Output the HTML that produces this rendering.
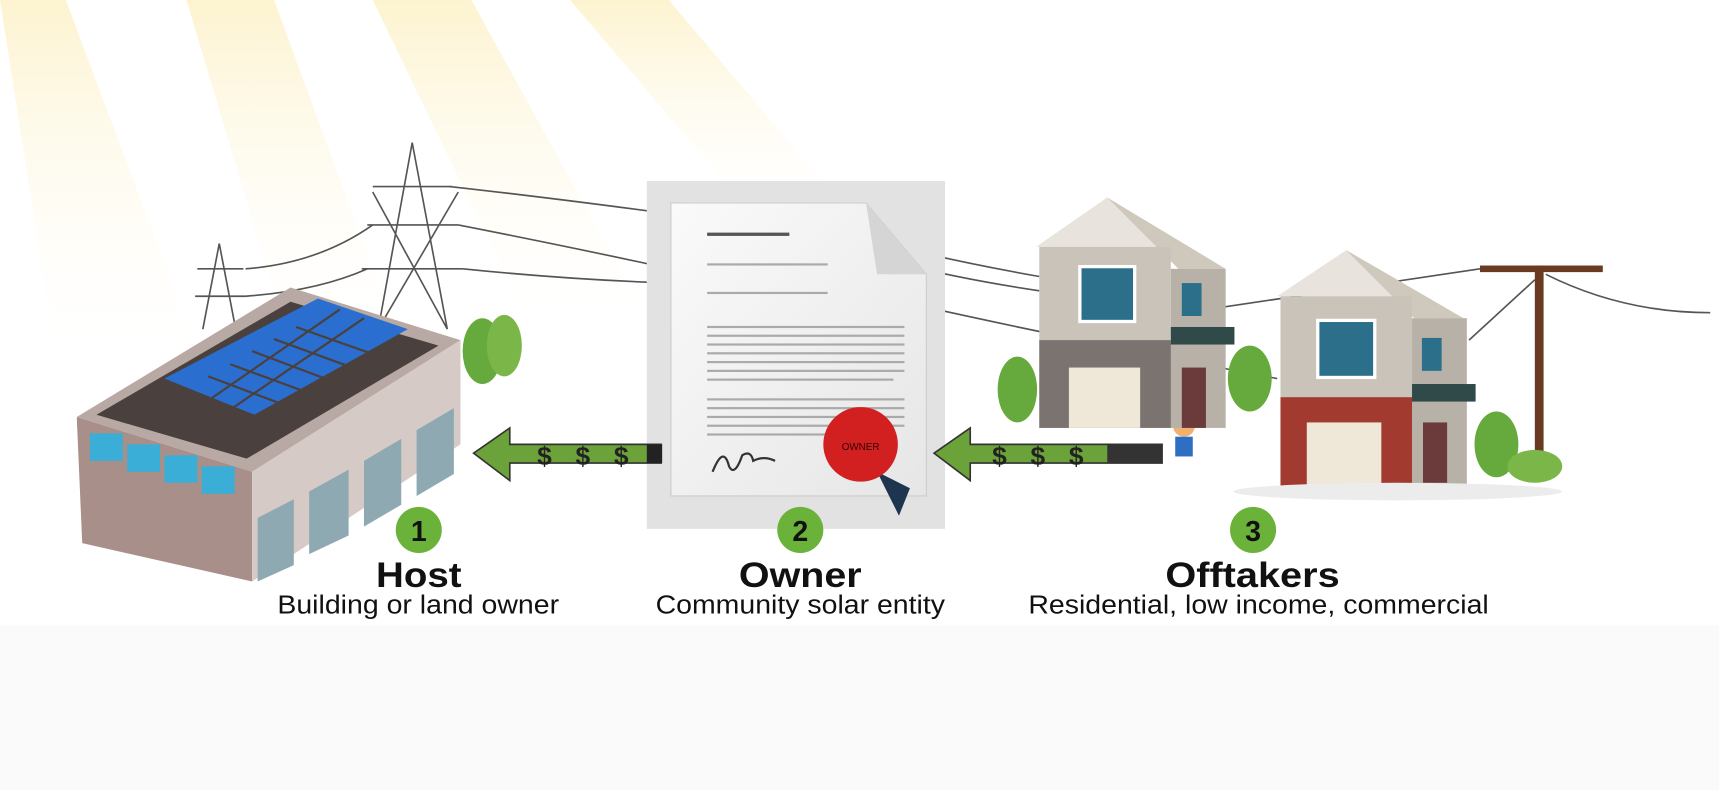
<!DOCTYPE html>
<html><head><style>
html,body{margin:0;padding:0;background:#fff;}
svg{display:block;}
text{font-family:"Liberation Sans",Arial,sans-serif;}
</style></head><body>
<svg width="1719" height="790" viewBox="0 0 1568 720" preserveAspectRatio="none" xmlns="http://www.w3.org/2000/svg">
<defs>
<linearGradient id="ray" x1="0" y1="0" x2="0" y2="1"><stop offset="0" stop-color="#fdf3d0"/><stop offset="1" stop-color="#fffdf5" stop-opacity="0"/></linearGradient>
<linearGradient id="paper" x1="0" y1="0" x2="1" y2="1"><stop offset="0" stop-color="#fafafa"/><stop offset="1" stop-color="#e6e6e6"/></linearGradient>
</defs>
<rect width="1568" height="720" fill="#fff"/>
<rect y="570" width="1568" height="150" fill="#fafafa"/>
<polygon points="0,0 60,0 180,320 50,320" fill="url(#ray)"/>
<polygon points="170,0 250,0 360,300 260,300" fill="url(#ray)"/>
<polygon points="340,0 430,0 590,290 480,290" fill="url(#ray)"/>
<polygon points="520,0 610,0 780,200 690,200" fill="url(#ray)"/>
<g stroke="#555" stroke-width="1.5" fill="none">
<path d="M376,130 L345,300 M376,130 L408,300 M340,170 L412,170 M335,205 L418,205 M330,245 L422,245 M345,300 L418,175 M408,300 L340,175"/>
<path d="M200,222 L185,300 M200,222 L215,300 M180,245 L222,245 M178,270 L224,270"/>
<path d="M410,170 Q500,180 612,195 M418,205 Q520,225 612,245 M422,245 Q520,255 612,258 M224,245 Q290,240 340,205 M224,270 Q290,265 335,245"/>
<path d="M818,225 Q880,240 948,252 M820,240 Q880,255 948,265 M845,280 Q980,310 1165,345 M1115,280 Q1250,260 1350,245 M1340,310 L1400,255 M1410,250 Q1480,285 1560,285"/>
</g>
<rect x="1400" y="242" width="8" height="178" fill="#6b3a22"/>
<rect x="1350" y="242" width="112" height="6" fill="#6b3a22"/>
<polygon points="70,380 265,262 420,310 230,430" fill="#b9a9a4"/>
<polygon points="88,378 265,275 400,315 225,418" fill="#4a403d"/>
<polygon points="150,345 290,272 372,300 232,378" fill="#2a6fcf"/>
<g stroke="#4a403d" stroke-width="2">
<path d="M170,355 L255,388 M190,343 L275,375 M210,332 L295,363 M230,320 L315,352 M250,309 L335,340 M270,298 L355,328 M190,365 L310,282 M212,372 L332,290"/>
</g>
<polygon points="70,380 230,430 230,530 75,495" fill="#a98f89"/>
<polygon points="230,430 420,310 420,405 230,530" fill="#d6cac6"/>
<g fill="#3aaed6"><rect x="82" y="395" width="30" height="25"/><rect x="116" y="405" width="30" height="25"/><rect x="150" y="415" width="30" height="25"/><rect x="184" y="425" width="30" height="25"/></g>
<g fill="#8fa9b3"><polygon points="235,472 268,455 268,515 235,530"/><polygon points="282,448 318,428 318,488 282,505"/><polygon points="332,420 366,400 366,460 332,480"/><polygon points="380,392 414,372 414,432 380,452"/></g>
<ellipse cx="440" cy="320" rx="18" ry="30" fill="#66aa3d"/><ellipse cx="460" cy="315" rx="16" ry="28" fill="#7ab648"/>
<rect x="590" y="165" width="272" height="317" fill="#e2e2e2"/>
<polygon points="612,185 790,185 845,250 845,452 612,452" fill="url(#paper)" stroke="#ccc"/>
<polygon points="790,185 845,250 800,250" fill="#d5d5d5"/>
<rect x="645" y="212" width="75" height="3" fill="#555"/>
<g fill="#aaa"><rect x="645" y="240" width="110" height="2"/><rect x="645" y="266" width="110" height="2"/>
<rect x="645" y="297" width="180" height="2"/><rect x="645" y="305" width="180" height="2"/><rect x="645" y="313" width="180" height="2"/><rect x="645" y="321" width="180" height="2"/><rect x="645" y="329" width="180" height="2"/><rect x="645" y="337" width="180" height="2"/><rect x="645" y="345" width="170" height="2"/>
<rect x="645" y="363" width="180" height="2"/><rect x="645" y="371" width="180" height="2"/><rect x="645" y="379" width="180" height="2"/><rect x="645" y="387" width="180" height="2"/><rect x="645" y="395" width="120" height="2"/></g>
<path d="M650,430 q10,-25 15,-5 q5,10 12,-10 q8,-5 10,5 q10,-5 20,0" stroke="#333" stroke-width="2" fill="none"/>
<polygon points="800,430 820,470 830,445" fill="#1e3550"/>
<circle cx="785" cy="405" r="34" fill="#d21f1f"/>
<text x="785" y="410" font-size="9" text-anchor="middle" fill="#300">OWNER</text>
<g fill="#6ba33a" stroke="#333" stroke-width="1.5">
<polygon points="432,413 465,390 465,405 603,405 603,422 465,422 465,438"/>
<polygon points="852,413 885,390 885,405 1060,405 1060,422 885,422 885,438"/>
</g>
<g font-size="24" font-weight="bold" fill="#222"><text x="490" y="424">$</text><text x="525" y="424">$</text><text x="560" y="424">$</text>
<text x="905" y="424">$</text><text x="940" y="424">$</text><text x="975" y="424">$</text></g>
<rect x="590" y="405" width="14" height="17" fill="#222"/><rect x="1010" y="405" width="50" height="17" fill="#333"/>
<circle cx="1080" cy="388" r="10" fill="#f0b070"/><rect x="1072" y="398" width="16" height="18" fill="#2e6fc4"/>
<polygon points="945,225 1010,180 1075,225" fill="#e8e3dc"/><polygon points="1010,180 1118,245 1075,245" fill="#cfc8bd"/>
<rect x="948" y="225" width="120" height="165" fill="#c9c3ba"/><rect x="1068" y="245" width="50" height="145" fill="#b8b1a7"/>
<rect x="948" y="310" width="120" height="80" fill="#7b7370"/><rect x="975" y="335" width="65" height="55" fill="#efe8d8"/>
<rect x="985" y="243" width="50" height="50" fill="#2b6f8a" stroke="#fff" stroke-width="3"/><rect x="1078" y="258" width="18" height="30" fill="#2b6f8a"/>
<rect x="1068" y="298" width="58" height="16" fill="#2f4a48"/><rect x="1078" y="335" width="22" height="55" fill="#6b3a3a"/>
<ellipse cx="928" cy="355" rx="18" ry="30" fill="#66aa3d"/><ellipse cx="1140" cy="345" rx="20" ry="30" fill="#66aa3d"/>
<polygon points="1165,270 1228,228 1290,270" fill="#e8e3dc"/><polygon points="1228,228 1335,290 1290,290" fill="#cfc8bd"/>
<rect x="1168" y="270" width="120" height="175" fill="#c9c3ba"/><rect x="1288" y="290" width="50" height="155" fill="#b8b1a7"/>
<rect x="1168" y="362" width="120" height="83" fill="#a23a30"/><rect x="1192" y="385" width="68" height="60" fill="#efe8d8"/>
<rect x="1202" y="292" width="52" height="52" fill="#2b6f8a" stroke="#fff" stroke-width="3"/><rect x="1297" y="308" width="18" height="30" fill="#2b6f8a"/>
<rect x="1288" y="350" width="58" height="16" fill="#2f4a48"/><rect x="1298" y="385" width="22" height="55" fill="#6b3a3a"/>
<ellipse cx="1365" cy="405" rx="20" ry="30" fill="#66aa3d"/><ellipse cx="1400" cy="425" rx="25" ry="15" fill="#7ab648"/>
<ellipse cx="1275" cy="448" rx="150" ry="8" fill="#ececec"/>
<g fill="#6bb23a"><circle cx="382" cy="483" r="21"/><circle cx="730" cy="483" r="21"/><circle cx="1143" cy="483" r="21"/></g>
<g font-size="26" font-weight="bold" text-anchor="middle" fill="#111"><text x="382" y="493">1</text><text x="730" y="493">2</text><text x="1143" y="493">3</text></g>
<g font-size="32" font-weight="bold" fill="#111">
<text x="343" y="535" textLength="78" lengthAdjust="spacingAndGlyphs">Host</text>
<text x="674" y="535" textLength="112" lengthAdjust="spacingAndGlyphs">Owner</text>
<text x="1063" y="535" textLength="159" lengthAdjust="spacingAndGlyphs">Offtakers</text></g>
<g font-size="24" fill="#111">
<text x="253" y="559" textLength="257" lengthAdjust="spacingAndGlyphs">Building or land owner</text>
<text x="598" y="559" textLength="264" lengthAdjust="spacingAndGlyphs">Community solar entity</text>
<text x="938" y="559" textLength="420" lengthAdjust="spacingAndGlyphs">Residential, low income, commercial</text></g>
</svg>
</body></html>
